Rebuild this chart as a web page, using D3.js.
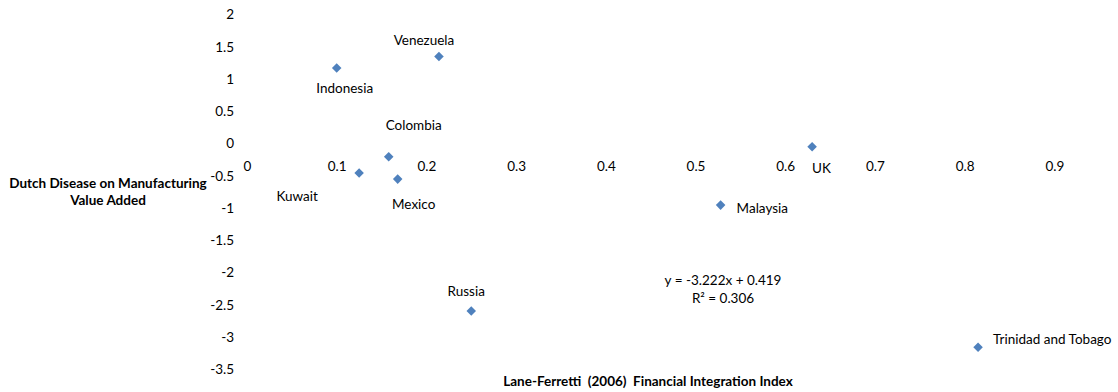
<!DOCTYPE html>
<html>
<head>
<meta charset="utf-8">
<script src="https://cdn.jsdelivr.net/npm/d3@7"></script>
<style>
html,body{margin:0;padding:0;background:#fff;}
svg text{font-family:Lato,"Open Sans",sans-serif;fill:#000;}
</style>
</head>
<body>
<script>
const countries = ["Indonesia","Venezuela","Colombia","Kuwait","Mexico","Russia","UK","Malaysia","Trinidad and Tobago"];
const xValues = [0.100, 0.214, 0.158, 0.125, 0.168, 0.250, 0.630, 0.528, 0.815];
const yValues = [1.163, 1.340, -0.212, -0.465, -0.558, -2.600, -0.057, -0.961, -3.163];
const xTicks = [0,0.1,0.2,0.3,0.4,0.5,0.6,0.7,0.8,0.9];
const yTicks = [2,1.5,1,0.5,0,-0.5,-1,-1.5,-2,-2.5,-3,-3.5];
const equationText = "y = -3.222x + 0.419";
const r2Text = "R² = 0.306";
const xTitle = "Lane-Ferretti  (2006)  Financial Integration Index";
const yTitleLines = ["Dutch Disease on Manufacturing","Value Added"];
// label offsets relative to point (dx, dy, anchor)
const labelPos = [
  {dx:8, dy:20, a:"middle"},
  {dx:-15, dy:-16, a:"middle"},
  {dx:25, dy:-31, a:"middle"},
  {dx:-62, dy:23, a:"middle"},
  {dx:16, dy:25, a:"middle"},
  {dx:-5, dy:-20, a:"middle"},
  {dx:0, dy:22, a:"start"},
  {dx:16, dy:3, a:"start"},
  {dx:15, dy:-8, a:"start"}
];

const W=1118,H=392;
const FS="13.5px";
const svg=d3.select("body").append("svg").attr("width",W).attr("height",H);
const x=d3.scaleLinear().domain([0,1]).range([247,1144]);
const y=d3.scaleLinear().domain([-3.5,2]).range([369,14]);
const fmt=d=>String(d);

// y axis tick labels
const yAxis=d3.axisLeft(y).tickValues(yTicks).tickSize(0).tickPadding(0).tickFormat(fmt);
const gy=svg.append("g").attr("transform","translate(234,0)").call(yAxis);
gy.select(".domain").remove();
gy.selectAll("text").style("font-family","Lato").style("font-size",FS).attr("fill","#000").attr("dy","0.35em");

// x axis tick labels (below axis line at y=0, no line drawn)
const xAxis=d3.axisBottom(x).tickValues(xTicks).tickSize(0).tickPadding(0).tickFormat(fmt);
const gx=svg.append("g").attr("transform",`translate(0,${y(0)+23})`).call(xAxis);
gx.select(".domain").remove();
gx.selectAll("text").style("font-family","Lato").style("font-size",FS).attr("fill","#000").attr("dy","0.35em");

const data=countries.map((c,i)=>({c,x:xValues[i],y:yValues[i],l:labelPos[i]}));
const diamond=d3.symbol().type(d3.symbolDiamond2).size(58);
svg.append("g").selectAll("path").data(data).join("path")
  .attr("d",diamond)
  .attr("transform",d=>`translate(${x(d.x)},${y(d.y)})`)
  .attr("fill","#4F81BD");

svg.append("g").selectAll("text").data(data).join("text")
  .attr("x",d=>x(d.x)+d.l.dx).attr("y",d=>y(d.y)+d.l.dy)
  .attr("dy","0.35em").attr("text-anchor",d=>d.l.a)
  .style("font-size",FS).text(d=>d.c);

// regression label
svg.append("text").attr("x",723).attr("y",280).attr("dy","0.35em").attr("text-anchor","middle").style("font-size",FS).text(equationText);
svg.append("text").attr("x",723).attr("y",298).attr("dy","0.35em").attr("text-anchor","middle").style("font-size",FS).text(r2Text);

// axis titles
svg.append("text").attr("x",648).attr("y",381).attr("dy","0.35em").attr("text-anchor","middle")
  .style("font-size",FS).style("font-weight","bold").style("white-space","pre").attr("xml:space","preserve").text(xTitle);
svg.append("g").selectAll("text").data(yTitleLines).join("text")
  .attr("x",108).attr("y",(d,i)=>183+i*17).attr("dy","0.35em").attr("text-anchor","middle")
  .style("font-size",FS).style("font-weight","bold").text(d=>d);
</script>
</body>
</html>
